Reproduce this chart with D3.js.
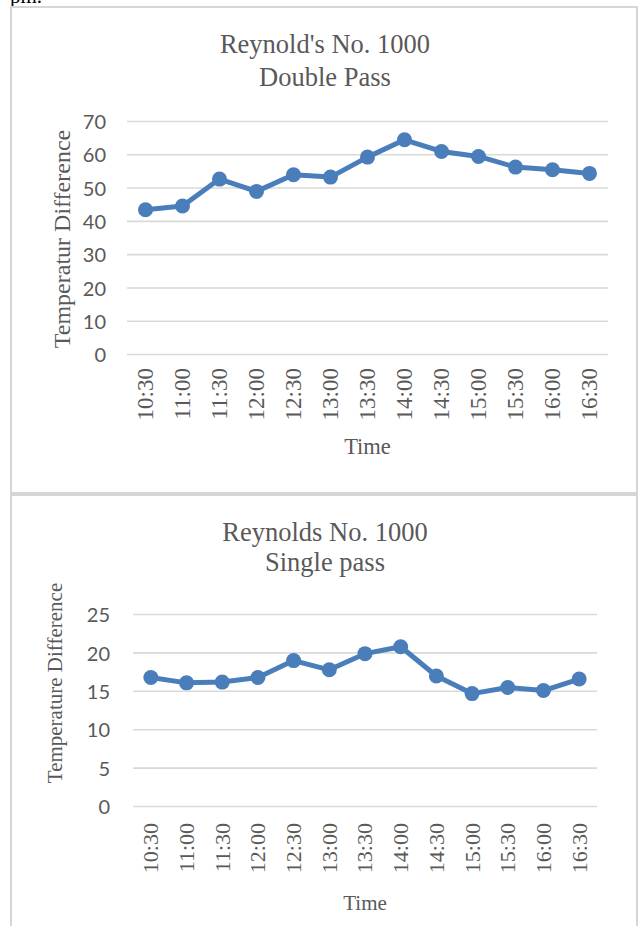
<!DOCTYPE html>
<html>
<head>
<meta charset="utf-8">
<script src="https://cdn.jsdelivr.net/npm/d3@7"></script>
<style>
  html, body { margin: 0; padding: 0; background: #fff; }
  svg { display: block; }
</style>
</head>
<body>
<svg id="page" width="639" height="926"></svg>
<script>
// Measurement times (shared by both charts)
const times = ["10:30","11:00","11:30","12:00","12:30","13:00","13:30","14:00","14:30","15:00","15:30","16:00","16:30"];

// Temperature difference, Reynolds No. 1000, double pass
const doublePass = [43.5, 44.6, 52.7, 49.0, 54.0, 53.3, 59.3, 64.5, 61.0, 59.5, 56.3, 55.5, 54.4];
const doubleTicks = [0, 10, 20, 30, 40, 50, 60, 70];

// Temperature difference, Reynolds No. 1000, single pass
const singlePass = [16.8, 16.1, 16.2, 16.8, 19.0, 17.8, 19.9, 20.8, 17.0, 14.7, 15.5, 15.1, 16.6];
const singleTicks = [0, 5, 10, 15, 20, 25];

const svg = d3.select("#page");
const TEXT = "#595959";
const GRID = "#d9d9d9";
const LINE = "#4a7ebb";
const SERIF = "'Liberation Serif', 'Times New Roman', serif";
const SANS = "Lato, 'Open Sans', sans-serif";

// Running text of the surrounding document, clipped at the top edge
svg.append("text")
  .attr("x", 10).attr("y", 3)
  .attr("font-family", SERIF).attr("font-size", 21).attr("fill", "#000")
  .text("pm.");

function drawChart(o) {
  const g = svg.append("g");

  // chart frame
  g.append("rect")
    .attr("x", o.frame[0]).attr("y", o.frame[1])
    .attr("width", o.frame[2]).attr("height", o.frame[3])
    .attr("fill", "#fff").attr("stroke", "#d6d6d6").attr("stroke-width", 2);

  const x = d3.scaleBand().domain(times).range([o.left, o.right]);
  const y = d3.scaleLinear().domain([0, d3.max(o.ticks)]).range([o.bottom, o.top]);

  // title
  const title = g.append("text")
    .attr("text-anchor", "middle")
    .attr("font-family", SERIF).attr("font-size", o.titleSize).attr("fill", TEXT);
  o.title.forEach((t, i) => {
    title.append("tspan").attr("x", o.titleX).attr("y", o.titleY[i]).text(t);
  });

  // gridlines + y tick labels
  const yAxis = d3.axisLeft(y).tickValues(o.ticks).tickSize(0).tickPadding(0);
  const ya = g.append("g").attr("transform", `translate(${o.yLabelX},0)`).call(yAxis);
  ya.select(".domain").remove();
  ya.selectAll("text")
    .attr("font-family", SANS).attr("font-size", o.tickSize).attr("fill", TEXT)
    .attr("dy", "0.36em");

  g.append("g").selectAll("line").data(o.ticks).join("line")
    .attr("x1", o.left).attr("x2", o.right)
    .attr("y1", d => y(d)).attr("y2", d => y(d))
    .attr("stroke", GRID).attr("stroke-width", 1.6);

  // x tick labels (rotated)
  const xAxis = d3.axisBottom(x).tickSize(0).tickPadding(0);
  const xa = g.append("g").attr("transform", `translate(0,${o.xLabelY})`).call(xAxis);
  xa.select(".domain").remove();
  xa.selectAll("text")
    .attr("font-family", SERIF).attr("font-size", o.xTickSize).attr("fill", TEXT)
    .attr("text-anchor", "end")
    .attr("transform", "rotate(-90)")
    .attr("x", 0).attr("y", 0).attr("dy", "0.34em");

  // axis titles
  g.append("text")
    .attr("transform", `translate(${o.yTitlePos[0]},${o.yTitlePos[1]}) rotate(-90)`)
    .attr("text-anchor", "middle").attr("dy", "0.32em")
    .attr("font-family", SERIF).attr("font-size", o.yTitleSize).attr("fill", TEXT)
    .text(o.yTitle);

  g.append("text")
    .attr("x", (o.left + o.right) / 2).attr("y", o.xTitleY)
    .attr("text-anchor", "middle")
    .attr("font-family", SERIF).attr("font-size", o.xTitleSize).attr("fill", TEXT)
    .text("Time");

  // series
  const cx = (d, i) => x(times[i]) + x.bandwidth() / 2;
  const line = d3.line().x(cx).y(d => y(d));
  g.append("path").datum(o.values)
    .attr("d", line).attr("fill", "none")
    .attr("stroke", LINE).attr("stroke-width", o.lineWidth)
    .attr("stroke-linejoin", "round");
  g.append("g").selectAll("circle").data(o.values).join("circle")
    .attr("cx", cx).attr("cy", d => y(d)).attr("r", o.r)
    .attr("fill", LINE);
}

drawChart({
  frame: [11, 7, 626, 486],
  title: ["Reynold's No. 1000", "Double Pass"],
  titleX: 325, titleY: [53, 86], titleSize: 26.5,
  values: doublePass, ticks: doubleTicks,
  left: 127, right: 608, top: 121.5, bottom: 354.5,
  yLabelX: 106, tickSize: 20,
  xLabelY: 368, xTickSize: 23,
  yTitle: "Temperatur Difference", yTitlePos: [62, 239], yTitleSize: 24,
  xTitleY: 454, xTitleSize: 22.5,
  lineWidth: 5, r: 7.5
});

drawChart({
  frame: [11, 495, 626, 460],
  title: ["Reynolds No. 1000", "Single pass"],
  titleX: 325, titleY: [541, 571], titleSize: 26.5,
  values: singlePass, ticks: singleTicks,
  left: 133, right: 597, top: 614.5, bottom: 806.5,
  yLabelX: 110, tickSize: 20,
  xLabelY: 823, xTickSize: 22,
  yTitle: "Temperature Difference", yTitlePos: [55, 683], yTitleSize: 21,
  xTitleY: 910, xTitleSize: 21,
  lineWidth: 5, r: 7.5
});
</script>
</body>
</html>
